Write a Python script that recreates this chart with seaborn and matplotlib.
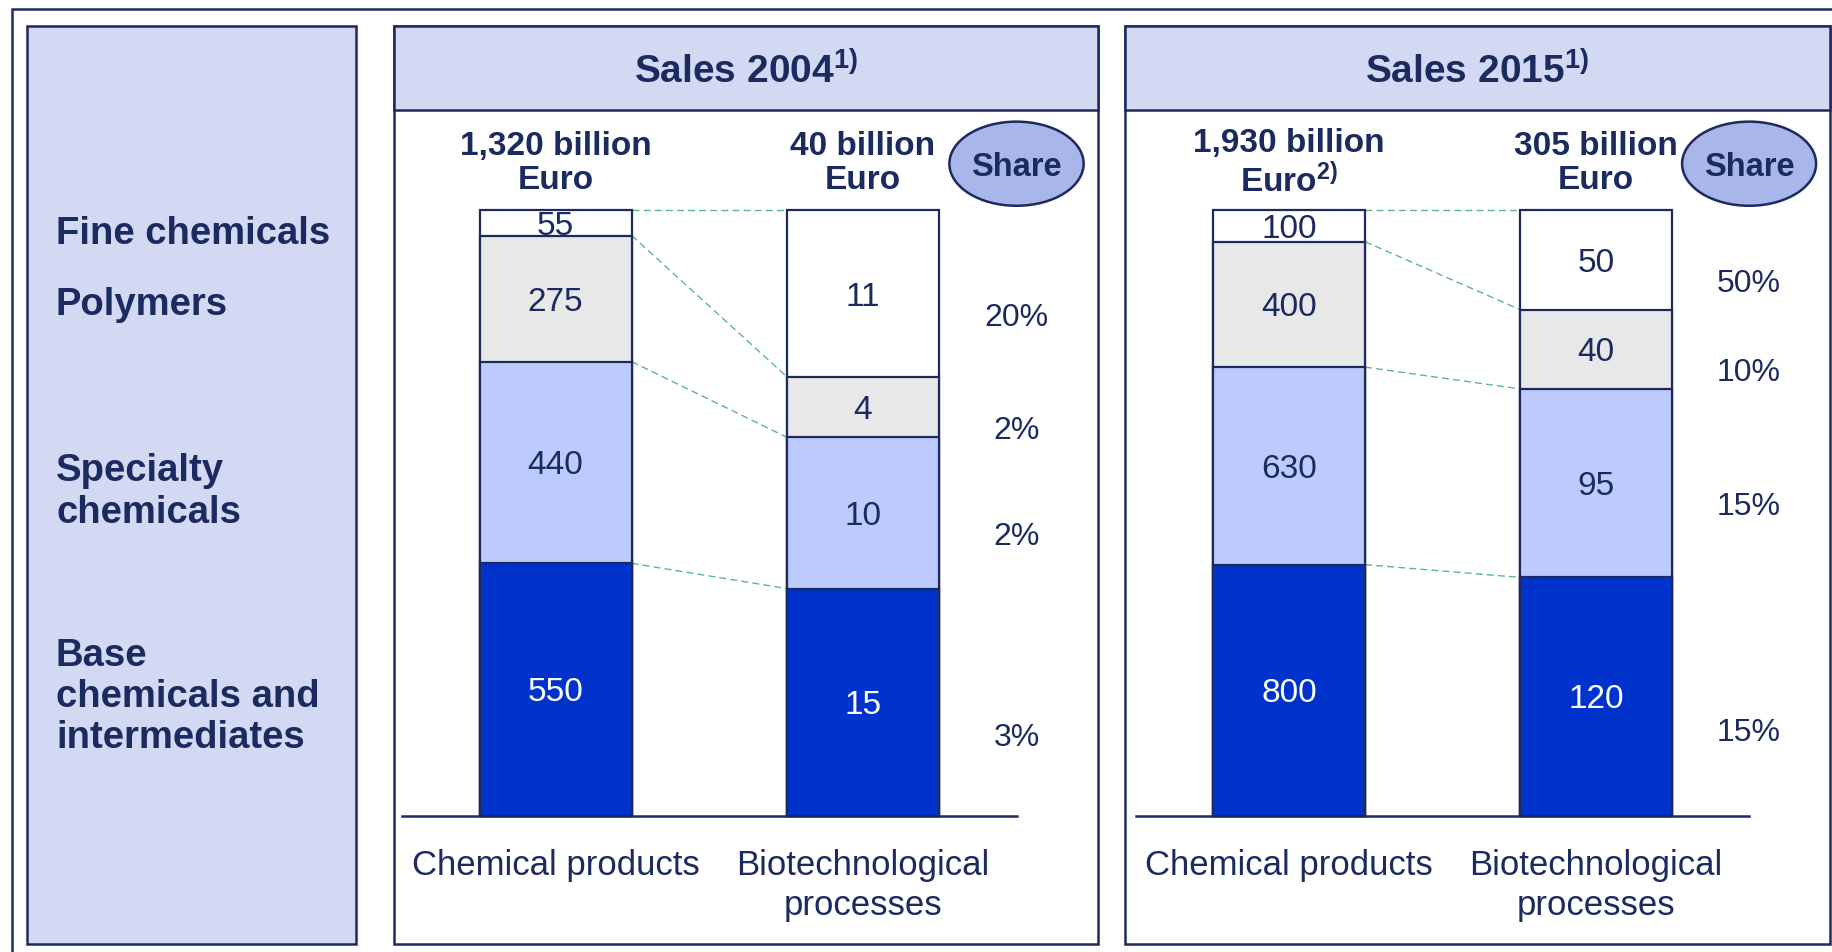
"""Chemical vs biotechnological sales 2004 / 2015, stacked 100% bars."""

import matplotlib.pyplot as plt
import numpy as np
import seaborn as sns
from matplotlib.patches import Ellipse, Rectangle

PRODUCTS = ["Chemical products", "Biotechnological processes"]
PRODUCT_TICKS = ["Chemical products", "Biotechnological\nprocesses"]
# segments from bottom to top
SEGMENTS = ["Base chemicals and intermediates", "Specialty chemicals", "Polymers", "Fine chemicals"]
SEGMENT_LABELS = ["Base\nchemicals and\nintermediates", "Specialty\nchemicals", "Polymers", "Fine chemicals"]
SEGMENT_COLORS = ["#0033CC", "#BCCBFB", "#E8E8E8", "#FFFFFF"]

TITLES = ["Sales 2004$^{1)}$", "Sales 2015$^{1)}$"]
CHEM_2004 = [550, 440, 275, 55]
BIO_2004 = [15, 10, 4, 11]
SHARE_2004 = [3, 2, 2, 20]
NOTES_2004 = ["", ""]
CHEM_2015 = [800, 630, 400, 100]
BIO_2015 = [120, 95, 40, 50]
SHARE_2015 = [15, 15, 10, 50]
NOTES_2015 = ["$^{2)}$", ""]

W, H = 1832, 952
NAVY = "#1E2A5E"
TEXT = "#1B2A5F"
HEADER = "#D4D9F3"
OVAL = "#A9B6E9"
DASH = "#5DB886"
BAR_W = 0.495


def fig_rect(fig, left, top, right, bottom, face="none", lw=1.8, z=-5):
    fig.add_artist(Rectangle((left / W, 1 - bottom / H), (right - left) / W, (bottom - top) / H,
                             transform=fig.transFigure, facecolor=face, edgecolor=NAVY,
                             linewidth=lw, zorder=z))


def draw_panel(ax, chem, bio, shares, notes):
    fracs = np.array([np.array(chem) / sum(chem), np.array(bio) / sum(bio)])
    tops = fracs.cumsum(axis=1)
    # stacked look: draw cumulative heights from the top layer down
    for i in reversed(range(len(SEGMENTS))):
        sns.barplot(x=PRODUCTS, y=tops[:, i], order=PRODUCTS, color=SEGMENT_COLORS[i],
                    saturation=1, width=BAR_W, edgecolor=NAVY, linewidth=1.6, ax=ax)
    for patch in ax.patches:
        patch.set_clip_on(False)

    half = BAR_W / 2
    for i in range(len(SEGMENTS)):
        ax.plot([half, 1 - half], [tops[0, i], tops[1, i]], ls=(0, (5, 3)), color=DASH,
                lw=1.0, clip_on=False, zorder=0)

    for j, (values, note) in enumerate(zip((chem, bio), notes)):
        bottom = 0
        for i, v in enumerate(values):
            f = v / sum(values)
            ax.text(j, bottom + f / 2, f"{v}", ha="center", va="center_baseline", fontsize=24,
                    color="white" if i == 0 else TEXT)
            bottom += f
        ax.text(j, 1.077, f"{sum(values):,} billion\nEuro{note}", ha="center", va="center",
                fontsize=24, weight="bold", color=TEXT, linespacing=1.15)

    for i, s in enumerate(shares):
        offset = 0.04 if i else 0.06
        ax.text(1.5, tops[1, i] - fracs[1, i] / 2 - offset, f"{s}%", ha="center",
                va="center", fontsize=23, color=TEXT)
    ax.add_patch(Ellipse((1.5, 1.077), 0.437, 0.139, facecolor=OVAL, edgecolor=NAVY,
                         linewidth=1.8, clip_on=False))
    ax.text(1.5, 1.077, "Share", ha="center", va="center_baseline", fontsize=23.5,
            weight="bold", color=TEXT)

    ax.set_xlim(-0.5, 1.5)
    ax.set_ylim(0, 1)
    ax.set_yticks([])
    ax.set_xticks([0, 1])
    ax.set_xticklabels(PRODUCT_TICKS, fontsize=25, color=TEXT, linespacing=1.28)
    ax.tick_params(axis="x", length=0, pad=24)
    ax.set(xlabel="", ylabel="")
    for side in ("left", "right", "top"):
        ax.spines[side].set_visible(False)
    ax.spines["bottom"].set_color(NAVY)
    ax.spines["bottom"].set_linewidth(1.8)
    ax.patch.set_visible(False)


def main():
    sns.set_theme(style="white")
    plt.rcParams["font.family"] = ["Liberation Sans", "DejaVu Sans"]
    plt.rcParams["mathtext.default"] = "regular"

    fig = plt.figure(figsize=(W / 100, H / 100), dpi=100)

    fig_rect(fig, 12, 9, 1860, 980)
    fig_rect(fig, 27, 26, 356, 944, face=HEADER)
    panels = [(394, 1098), (1125, 1830)]
    for (left, right), title in zip(panels, TITLES):
        fig_rect(fig, left, 26, right, 944, face="white")
        fig_rect(fig, left, 26, right, 110, face=HEADER)
        fig.text((left + right) / 2 / W, 1 - 84 / H, title, ha="center", va="baseline",
                 fontsize=28, weight="bold", color=TEXT)

    label_y = [697, 492, 305, 234]
    for label, y in zip(SEGMENT_LABELS, label_y):
        fig.text(56 / W, 1 - y / H, label, ha="left", va="center", fontsize=27.5,
                 weight="bold", color=TEXT, linespacing=1.18)

    axes_x = [(402, 1016.5), (1135.7, 1749.1)]
    y_top, y_bottom = 210.3, 815.5
    data = [(CHEM_2004, BIO_2004, SHARE_2004, NOTES_2004),
            (CHEM_2015, BIO_2015, SHARE_2015, NOTES_2015)]
    for (x0, x1), (chem, bio, shares, notes) in zip(axes_x, data):
        ax = fig.add_axes([x0 / W, 1 - y_bottom / H, (x1 - x0) / W, (y_bottom - y_top) / H])
        draw_panel(ax, chem, bio, shares, notes)

    fig.savefig("out.png", dpi=100, facecolor="white")
    plt.close(fig)


if __name__ == "__main__":
    main()
